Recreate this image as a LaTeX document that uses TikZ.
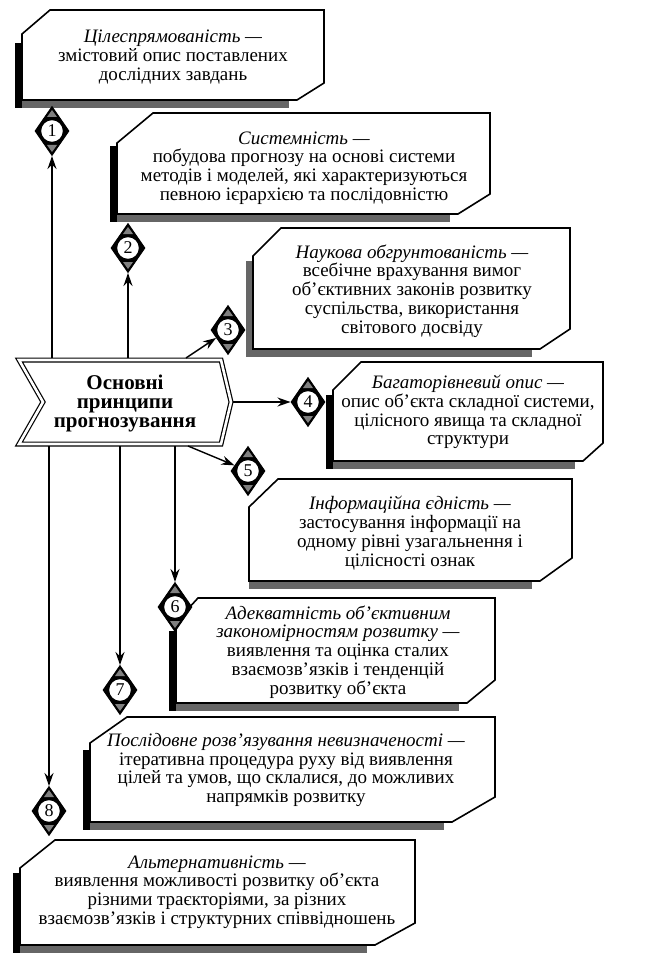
\documentclass[tikz,border=0pt]{standalone}
\usepackage{fontspec}
\setmainfont{Liberation Serif}
\usetikzlibrary{arrows.meta,shapes.geometric,calc}

\tikzset{
  boxline/.style={draw=black, line width=1.6pt, fill=white, line join=miter},
  boxtext/.style={align=center, font=\fontsize{19}{18.8}\selectfont, inner sep=0pt},
  dia/.style={diamond, draw=black, fill=black, line width=1pt, minimum width=34pt, minimum height=49pt, inner sep=0pt},
  numc/.style={circle, draw=black, fill=white, line width=1.3pt, minimum size=23pt, inner sep=0pt, font=\fontsize{18}{18}\selectfont},
  conn/.style={line width=1.4pt, -{Stealth[length=13pt,width=9pt]}},
  chevron/.style={line width=1.2pt, double=white, double distance=2.6pt, fill=white, line join=miter},
  centtext/.style={align=center, font=\fontsize{21}{19}\selectfont\bfseries, inner sep=0pt},
}

\def\barcol{black}
% x1 y1 x2 y2 tl-dx tl-dy br-dx br-dy
\newcommand\pbox[8]{%
  \fill[black!60] (#1-6,#4) rectangle (#3-#7-8,#4+8);
  \fill[\barcol] (#1-7,#2+33) rectangle (#1,#4+8);
  \draw[boxline] (#1+#5,#2) -- (#3,#2) -- (#3,#4-#8) -- (#3-#7,#4) -- (#1,#4) -- (#1,#2+#6) -- cycle;
}
% name x y number
\newcommand\dmd[4]{%
  \node[dia] (#1) at (#2,#3) {};
  \fill[black!50] (#2,#3-21) -- (#2-5,#3-14) -- (#2+5,#3-14) -- cycle;
  \fill[black!50] (#2,#3+21) -- (#2-5,#3+14) -- (#2+5,#3+14) -- cycle;
  \node[numc] (#1n) at (#2,#3) {#4};
}

\begin{document}
\begin{tikzpicture}[x=1pt, y=-1pt]
\useasboundingbox (0,0) rectangle (654,960);
\fill[white] (0,0) rectangle (654,960);

% boxes
\pbox{22}{10}{324}{100}{28}{24}{27}{17}
\node[boxtext] (b1) at (173,57) {\textit{Цілеспрямованість —}\\змістовий опис поставлених\\дослідних завдань};

\pbox{117}{113}{490}{214}{36}{30}{32}{20}
\node[boxtext] (b2) at (304,168) {\textit{Системність —}\\побудова прогнозу на основі системи\\методів і моделей, які характеризуються\\певною ієрархією та послідовністю};

\def\barcol{black!60}
\pbox{253}{228}{570}{349}{28}{28}{30}{20}
\node[boxtext] (b3) at (412,291) {\textit{Наукова обгрунтованість —}\\всебічне врахування вимог\\об’єктивних законів розвитку\\суспільства, використання\\світового досвіду};

\def\barcol{black}
\pbox{333}{362}{603}{461}{28}{28}{20}{18}
\node[boxtext] (b4) at (468,412) {\textit{Багаторівневий опис —}\\опис об’єкта складної системи,\\цілісного явища та складної\\структури};

\def\barcol{white}
\pbox{249}{479}{572}{581}{29}{28}{32}{23}
\node[boxtext] (b5) at (410,533) {\textit{Інформаційна єдність —}\\застосування інформації на\\одному рівні узагальнення і\\цілісності ознак};

\def\barcol{black}
\pbox{176}{598}{495}{703}{22}{24}{28}{23}
\node[boxtext] (b6) at (338,652) {\textit{Адекватність об’єктивним}\\\textit{закономірностям розвитку —}\\виявлення та оцінка сталих\\взаємозв’язків і тенденцій\\розвитку об’єкта};

\pbox{90}{717}{495}{822}{37}{26}{43}{25}
\node[boxtext] (b7) at (286,770) {\textit{Послідовне розв’язування невизначеності —}\\ітеративна процедура руху від виявлення\\цілей та умов, що склалися, до можливих\\напрямків розвитку};

\pbox{20}{840}{415}{945}{35}{28}{40}{22}
\node[boxtext] (b8) at (217,892) {\textit{Альтернативність —}\\виявлення можливості розвитку об’єкта\\різними траєкторіями, за різних\\взаємозв’язків і структурних співвідношень};

% central chevron
\draw[chevron] (19,360) -- (221,360) -- (231,402) -- (221,444) -- (19,444) -- (43,402) -- cycle;
\node[centtext] (c) at (125,403) {Основні\\принципи\\прогнозування};

\coordinate (c1) at (52,358);
\coordinate (c2) at (128,358);
\coordinate (c3) at (186,358);
\coordinate (c4) at (233,402);
\coordinate (c5) at (188,446);
\coordinate (c6) at (175,446);
\coordinate (c7) at (120,446);
\coordinate (c8) at (49,446);

% diamonds
\dmd{d1}{52}{131}{1}
\dmd{d2}{128}{248}{2}
\dmd{d3}{228}{330}{3}
\dmd{d4}{308}{402}{4}
\dmd{d5}{248}{471}{5}
\dmd{d6}{175}{607}{6}
\dmd{d7}{120}{690}{7}
\dmd{d8}{49}{811}{8}

% connectors
\draw[conn] (c1) -- (d1);
\draw[conn] (c2) -- (d2);
\draw[conn] (c3) -- (d3);
\draw[conn] (c4) -- (d4);
\draw[conn] (c5) -- (d5);
\draw[conn] (c6) -- (d6);
\draw[conn] (c7) -- (d7);
\draw[conn] (c8) -- (d8);
\end{tikzpicture}
\end{document}
